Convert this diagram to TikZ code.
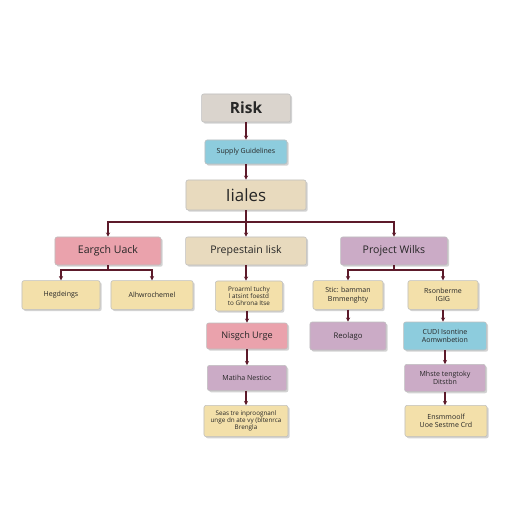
\documentclass[tikz,border=0pt]{standalone}
\usepackage{fontspec}
\setmainfont{Open Sans}
\usepackage{tikz}
\usetikzlibrary{positioning,calc,shadows,arrows.meta}
\definecolor{BoxGray}{RGB}{218,212,205}
\definecolor{BoxBlue}{RGB}{141,204,221}
\definecolor{BoxBeige}{RGB}{232,218,190}
\definecolor{BoxPink}{RGB}{234,162,172}
\definecolor{BoxPurple}{RGB}{203,171,198}
\definecolor{BoxYellow}{RGB}{243,224,170}
\definecolor{LineRed}{RGB}{92,26,42}
\tikzset{
    box/.style={draw=black!25, rounded corners=1.5pt, align=center, inner sep=1pt, text=black!85,
        drop shadow={shadow xshift=1.2pt, shadow yshift=-1.2pt, opacity=0.35}},
    arr/.style={draw=LineRed, thick, -{Stealth[length=3pt,width=3pt]}},
    bus/.style={draw=LineRed, thick}
}
\begin{document}
\begin{tikzpicture}[x=0.025cm, y=-0.025cm]
    \useasboundingbox[fill=white] (0,0) rectangle (512,512);
    % top chain
    \node[box, fill=BoxGray, minimum width=2.22cm, minimum height=0.7cm, font=\bfseries\fontsize{11}{13}\selectfont] (risk) at (246,108) {Risk};
    \node[box, fill=BoxBlue, minimum width=2.05cm, minimum height=0.6cm, font=\fontsize{5}{6}\selectfont] (supply) at (246,152) {Supply Guidelines};
    \node[box, fill=BoxBeige, minimum width=3cm, minimum height=0.75cm, font=\fontsize{12}{14}\selectfont] (iiales) at (246,195) {Iiales};
    % second level
    \node[box, fill=BoxPink, minimum width=2.65cm, minimum height=0.7cm, font=\fontsize{7.5}{9}\selectfont] (eargch) at (108,251) {Eargch Uack};
    \node[box, fill=BoxBeige, minimum width=3.02cm, minimum height=0.7cm, font=\fontsize{7.5}{9}\selectfont] (prep) at (246,251) {Prepestain Iisk};
    \node[box, fill=BoxPurple, minimum width=2.67cm, minimum height=0.7cm, font=\fontsize{7.5}{9}\selectfont] (project) at (394,251) {Project Wilks};
    % left branch
    \node[box, fill=BoxYellow, minimum width=1.95cm, minimum height=0.72cm, font=\fontsize{5}{6}\selectfont] (hegd) at (61,295) {Hegdeings};
    \node[box, fill=BoxYellow, minimum width=2.05cm, minimum height=0.72cm, font=\fontsize{5}{6}\selectfont] (alhw) at (152,295) {Alhwrochemel};
    % middle branch
    \node[box, fill=BoxYellow, minimum width=1.68cm, minimum height=0.75cm, font=\fontsize{4.5}{5}\selectfont] (pram) at (249,296) {Proarml tuchy\\ l atsint foestd\\ to Ghrona Itse};
    \node[box, fill=BoxPink, minimum width=2.02cm, minimum height=0.65cm, font=\fontsize{6.5}{8}\selectfont] (nisg) at (247,336) {Nisgch Urge};
    \node[box, fill=BoxPurple, minimum width=1.98cm, minimum height=0.63cm, font=\fontsize{5}{6}\selectfont] (mati) at (247,378) {Matiha Nestioc};
    \node[box, fill=BoxYellow, minimum width=2.1cm, minimum height=0.78cm, font=\fontsize{4.5}{5}\selectfont] (seas) at (246,421) {Seas tre inproognanl\\ unge dn ate vy (bltenrca\\ Brengla};
    % right branch
    \node[box, fill=BoxYellow, minimum width=1.75cm, minimum height=0.72cm, font=\fontsize{5}{6}\selectfont] (stic) at (348,295) {Stic: bamman\\ Bmmenghty};
    \node[box, fill=BoxYellow, minimum width=1.75cm, minimum height=0.72cm, font=\fontsize{5}{6}\selectfont] (rson) at (443,295) {Rsonberme\\ IGIG};
    \node[box, fill=BoxPurple, minimum width=1.9cm, minimum height=0.7cm, font=\fontsize{5.5}{6}\selectfont] (reol) at (348,336) {Reolago};
    \node[box, fill=BoxBlue, minimum width=2.07cm, minimum height=0.7cm, font=\fontsize{5}{6}\selectfont] (cudi) at (445,336) {CUDI Isontine\\ Aomwnbetion};
    \node[box, fill=BoxPurple, minimum width=2.02cm, minimum height=0.68cm, font=\fontsize{5}{6}\selectfont] (mhst) at (445,378) {Mhste tengtoky\\ Ditstbn};
    \node[box, fill=BoxYellow, minimum width=2.05cm, minimum height=0.78cm, font=\fontsize{5}{6}\selectfont] (ensr) at (446,421) {Ensmmoolf\\ Uoe Sestme Crd};
    % connectors
    \draw[arr] (risk) -- (supply);
    \draw[arr] (supply) -- (iiales);
    \coordinate (topbus) at (246,222);
    \coordinate (leftbus) at (108,270);
    \coordinate (rightbus) at (394,270);
    \draw[bus] (iiales) -- (topbus);
    \draw[arr] (topbus) -| (eargch.north);
    \draw[arr] (topbus) -- (prep);
    \draw[arr] (topbus) -| (project.north);
    \draw[bus] (eargch) -- (leftbus);
    \draw[arr] (leftbus) -| (hegd.north);
    \draw[arr] (leftbus) -| (alhw.north);
    \draw[bus] (project) -- (rightbus);
    \draw[arr] (rightbus) -| (stic.north);
    \draw[arr] (rightbus) -| (rson.north);
    \draw[arr] (prep) -- (prep |- pram.north);
    \draw[arr] (pram.south -| nisg) -- (nisg);
    \draw[arr] (nisg) -- (mati);
    \draw[arr] (mati.south -| seas) -- (seas);
    \draw[arr] (stic) -- (reol);
    \draw[arr] (rson) -- (rson |- cudi.north);
    \draw[arr] (cudi) -- (mhst);
    \draw[arr] (mhst) -- (mhst |- ensr.north);
\end{tikzpicture}
\end{document}
